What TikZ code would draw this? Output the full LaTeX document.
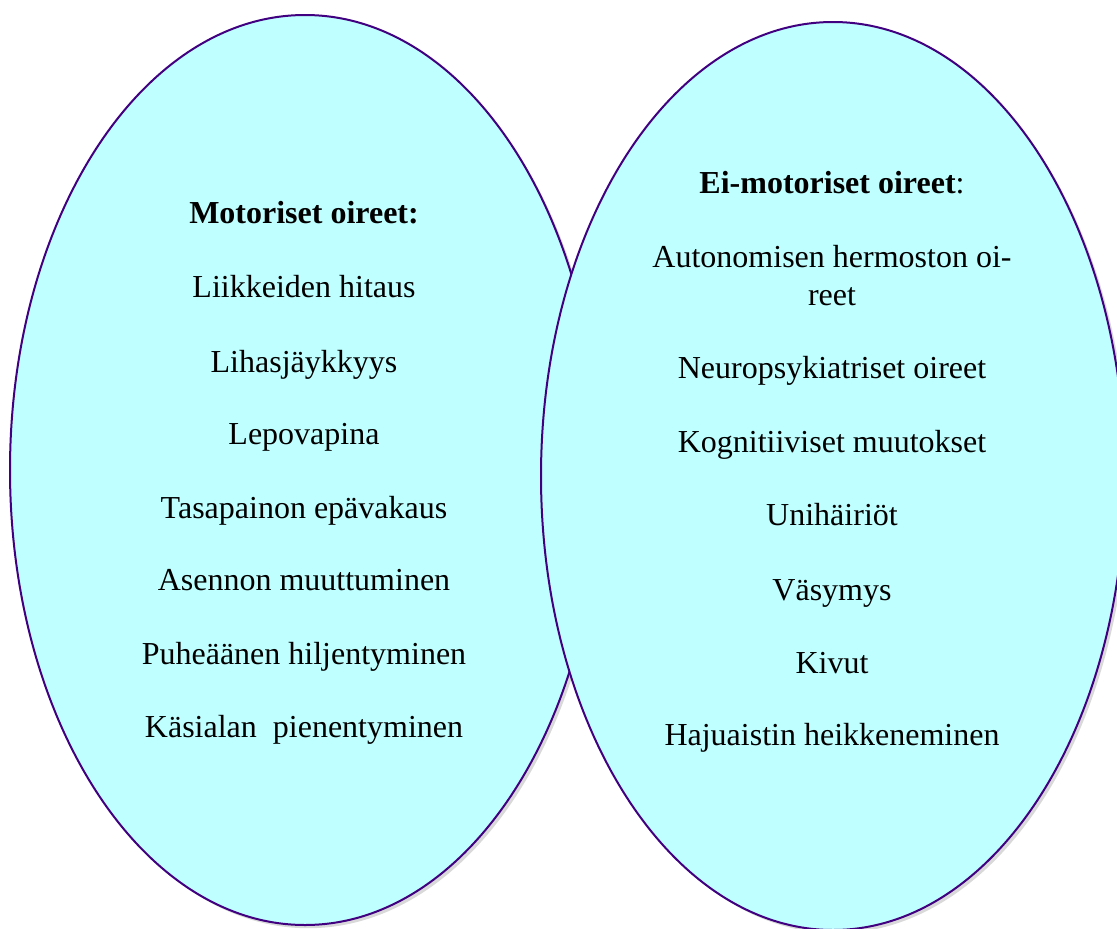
\documentclass[tikz,border=0pt]{standalone}
\usepackage{fontspec}
\setmainfont{Liberation Serif}
\usetikzlibrary{shadows}
\definecolor{ovalcyan}{RGB}{192,255,255}
\definecolor{ovalline}{RGB}{64,0,128}
\newcommand{\ovalfill}{ovalcyan}
\newcommand{\ovaldraw}{ovalline}
\newcommand{\rimwidth}{0.75pt}
\tikzset{
  oval/.style={fill=\ovalfill, draw=\ovaldraw, line width=\rimwidth,
    drop shadow={shadow xshift=1.2pt, shadow yshift=-1.2pt, opacity=0.3}},
  item/.style={anchor=base, inner sep=0pt, align=center,
    font=\fontsize{12}{13.9}\selectfont}
}
\begin{document}
\begin{tikzpicture}[x=0.375pt, y=-0.375pt]
    \useasboundingbox (0,0) rectangle (1117,928);

    %Motoriset oireet
    \draw[oval] (305,470) ellipse (295 and 455);
    \node[item] (motor) at (304,223) {\textbf{Motoriset oireet:}};
    \foreach \y/\t [count=\i] in {297/Liikkeiden hitaus, 372/Lihasjäykkyys,
        444/Lepovapina, 518/Tasapainon epävakaus, 590/Asennon muuttuminen,
        664/Puheäänen hiljentyminen, 737/Käsialan\ \ pienentyminen} {
        \node[item] (m\i) at (304,\y) {\t};
    }

    %Ei-motoriset oireet
    \draw[oval] (833,476) ellipse (292 and 454);
    \node[item] (nonmotor) at (832,193) {\textbf{Ei-motoriset oireet}:};
    % base of a two-line node is its last line
    \foreach \y/\t [count=\i] in {305/{Autonomisen hermoston oi-\\reet},
        378/Neuropsykiatriset oireet, 452/Kognitiiviset muutokset,
        525/Unihäiriöt, 600/Väsymys, 673/Kivut, 745/Hajuaistin heikkeneminen} {
        \node[item] (n\i) at (832,\y) {\t};
    }
\end{tikzpicture}
\end{document}
